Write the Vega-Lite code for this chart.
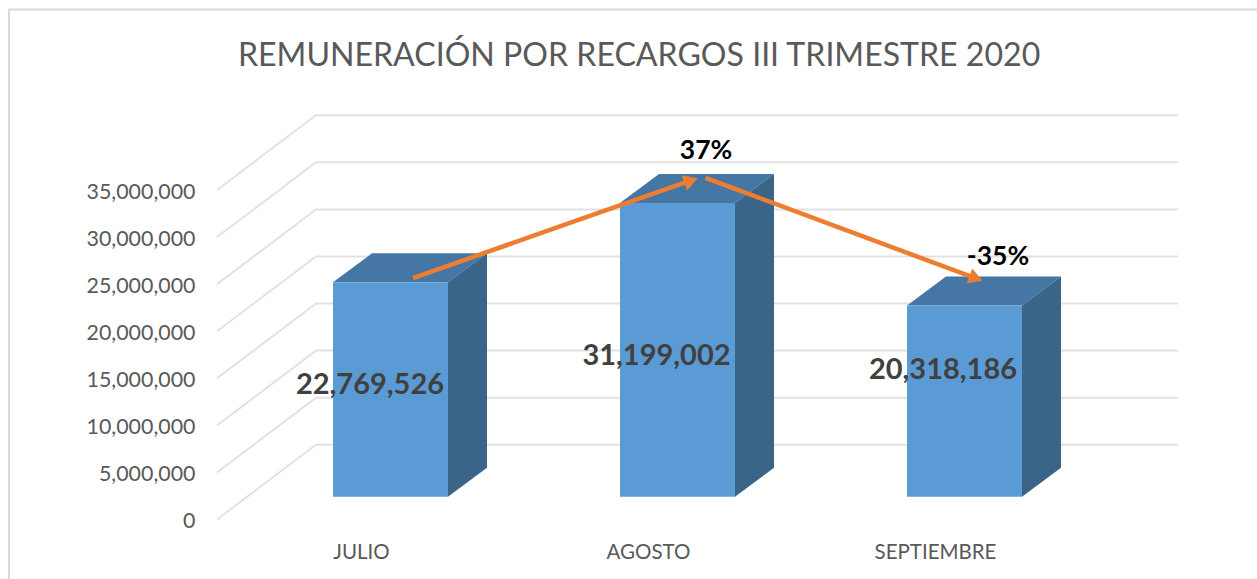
{"$schema":"https://vega.github.io/schema/vega-lite/v6.json","autosize":{"type":"none"},"padding":{"left":217,"right":79,"top":100,"bottom":44},"width":961,"height":435,"background":"#ffffff","config":{"view":{"stroke":null},"font":"Lato"},
"title":{"text":"REMUNERACIÓN POR RECARGOS III TRIMESTRE 2020","anchor":"start","frame":"group","dx":21,"offset":-68,"font":"Lato","fontSize":32.1,"fontWeight":"normal","color":"#595959"},
"datasets":{
"marco":[{"x":-0.2265,"y":-6320000,"o":1},{"x":-0.2265,"y":54170000,"o":2},{"x":4.122,"y":54170000,"o":3}],
"rejilla":[
{"v":0,"o":1,"x":0.4983,"y":0},{"v":0,"o":2,"x":0.8432,"y":7940000},{"v":0,"o":3,"x":3.8467,"y":7940000},
{"v":5000000,"o":1,"x":0.4983,"y":5000000},{"v":5000000,"o":2,"x":0.8432,"y":12940000},{"v":5000000,"o":3,"x":3.8467,"y":12940000},
{"v":10000000,"o":1,"x":0.4983,"y":10000000},{"v":10000000,"o":2,"x":0.8432,"y":17940000},{"v":10000000,"o":3,"x":3.8467,"y":17940000},
{"v":15000000,"o":1,"x":0.4983,"y":15000000},{"v":15000000,"o":2,"x":0.8432,"y":22940000},{"v":15000000,"o":3,"x":3.8467,"y":22940000},
{"v":20000000,"o":1,"x":0.4983,"y":20000000},{"v":20000000,"o":2,"x":0.8432,"y":27940000},{"v":20000000,"o":3,"x":3.8467,"y":27940000},
{"v":25000000,"o":1,"x":0.4983,"y":25000000},{"v":25000000,"o":2,"x":0.8432,"y":32940000},{"v":25000000,"o":3,"x":3.8467,"y":32940000},
{"v":30000000,"o":1,"x":0.4983,"y":30000000},{"v":30000000,"o":2,"x":0.8432,"y":37940000},{"v":30000000,"o":3,"x":3.8467,"y":37940000},
{"v":35000000,"o":1,"x":0.4983,"y":35000000},{"v":35000000,"o":2,"x":0.8432,"y":42940000},{"v":35000000,"o":3,"x":3.8467,"y":42940000}],
"caras":[
{"mes":"JULIO","cara":"superior","x":0.9024,"y":25189526,"y2":25189526},{"mes":"JULIO","cara":"superior","x":1.0383,"y":28269526,"y2":25189526},{"mes":"JULIO","cara":"superior","x":1.3031,"y":28269526,"y2":25189526},{"mes":"JULIO","cara":"superior","x":1.439,"y":28269526,"y2":28269526},
{"mes":"JULIO","cara":"lateral","x":1.3031,"y":25189526,"y2":2420000},{"mes":"JULIO","cara":"lateral","x":1.439,"y":28269526,"y2":5500000},
{"mes":"AGOSTO","cara":"superior","x":1.9024,"y":33619002,"y2":33619002},{"mes":"AGOSTO","cara":"superior","x":2.0383,"y":36699002,"y2":33619002},{"mes":"AGOSTO","cara":"superior","x":2.3031,"y":36699002,"y2":33619002},{"mes":"AGOSTO","cara":"superior","x":2.439,"y":36699002,"y2":36699002},
{"mes":"AGOSTO","cara":"lateral","x":2.3031,"y":33619002,"y2":2420000},{"mes":"AGOSTO","cara":"lateral","x":2.439,"y":36699002,"y2":5500000},
{"mes":"SEPTIEMBRE","cara":"superior","x":2.9024,"y":22738186,"y2":22738186},{"mes":"SEPTIEMBRE","cara":"superior","x":3.0383,"y":25818186,"y2":22738186},{"mes":"SEPTIEMBRE","cara":"superior","x":3.3031,"y":25818186,"y2":22738186},{"mes":"SEPTIEMBRE","cara":"superior","x":3.439,"y":25818186,"y2":25818186},
{"mes":"SEPTIEMBRE","cara":"lateral","x":3.3031,"y":22738186,"y2":2420000},{"mes":"SEPTIEMBRE","cara":"lateral","x":3.439,"y":25818186,"y2":5500000}],
"barras":[
{"mes":"JULIO","valor":22769526,"x0":0.9024,"x1":1.3031,"px":1.0314,"py":14290000},
{"mes":"AGOSTO","valor":31199002,"x0":1.9024,"x1":2.3031,"px":2.0296,"py":17370000},
{"mes":"SEPTIEMBRE","valor":20318186,"x0":2.9024,"x1":3.3031,"px":3.0279,"py":15890000}],
"flechas":[
{"f":"sube","o":1,"x":1.1812,"y":25650000},{"f":"sube","o":2,"x":2.1498,"y":36010000},
{"f":"baja","o":1,"x":2.2003,"y":36280000},{"f":"baja","o":2,"x":3.1429,"y":25610000}],
"puntas":[{"x":2.1498,"y":36010000,"a":340.7},{"x":3.1429,"y":25610000,"a":20.4}],
"cambios":[{"t":"37%","x":2.2021,"y":39150000},{"t":"-35%","x":3.2195,"y":27890000}]
},
"encoding":{
"x":{"field":"x","type":"quantitative","scale":{"domain":[0.49826,3.84669],"nice":false,"zero":false},"axis":{"values":[1,2,3],"labelExpr":"datum.value==1?'JULIO':datum.value==2?'AGOSTO':'SEPTIEMBRE'","title":null,"ticks":false,"domain":false,"grid":false,"labelPadding":7,"labelColor":"#595959","labelFont":"Lato","labelFontSize":20.5,"labelFlush":false,"labelOverlap":false}},
"y":{"field":"y","type":"quantitative","scale":{"domain":[-1646500,44560000],"nice":false,"zero":false},"axis":{"values":[0,5000000,10000000,15000000,20000000,25000000,30000000,35000000],"labelExpr":"format(datum.value,',')","title":null,"ticks":false,"domain":false,"grid":false,"labelPadding":22,"labelOffset":2,"labelColor":"#595959","labelFont":"Lato","labelFontSize":21.4,"labelOverlap":false,"labelFlush":false}}
},
"layer":[
{"data":{"name":"marco"},"mark":{"type":"line","stroke":"#D9D9D9","strokeWidth":2,"clip":false},"encoding":{"order":{"field":"o","type":"quantitative"}}},
{"data":{"name":"rejilla"},"mark":{"type":"line","stroke":"#E2E2E2","strokeWidth":2},"encoding":{"detail":{"field":"v","type":"nominal"},"order":{"field":"o","type":"quantitative"}}},
{"data":{"name":"caras"},"mark":{"type":"area","opacity":1},"encoding":{"y2":{"field":"y2"},"detail":{"field":"mes","type":"nominal"},"color":{"field":"cara","type":"nominal","scale":{"domain":["superior","lateral"],"range":["#4676A3","#3A6488"]},"legend":null}}},
{"data":{"name":"barras"},"mark":{"type":"bar","color":"#5B9BD5","yOffset":-22.8,"y2Offset":-22.8},"encoding":{"x":{"field":"x0","type":"quantitative"},"x2":{"field":"x1"},"y":{"field":"valor","type":"quantitative"},"y2":{"datum":0}}},
{"data":{"name":"flechas"},"mark":{"type":"line","stroke":"#ED7D31","strokeWidth":4.5},"encoding":{"detail":{"field":"f","type":"nominal"},"order":{"field":"o","type":"quantitative"}}},
{"data":{"name":"puntas"},"mark":{"type":"point","shape":"triangle-right","filled":true,"color":"#ED7D31","opacity":1,"size":260},"encoding":{"angle":{"field":"a","type":"quantitative","scale":null}}},
{"data":{"name":"barras"},"mark":{"type":"text","font":"Lato","fontWeight":"bold","fontSize":29,"color":"#404040","baseline":"middle","align":"center"},"encoding":{"x":{"field":"px","type":"quantitative"},"y":{"field":"py","type":"quantitative"},"text":{"field":"valor","type":"quantitative","format":","}}},
{"data":{"name":"cambios"},"mark":{"type":"text","font":"Lato","fontWeight":"bold","fontSize":26.5,"color":"#000000","baseline":"middle","align":"center"},"encoding":{"text":{"field":"t","type":"nominal"}}}
]}
